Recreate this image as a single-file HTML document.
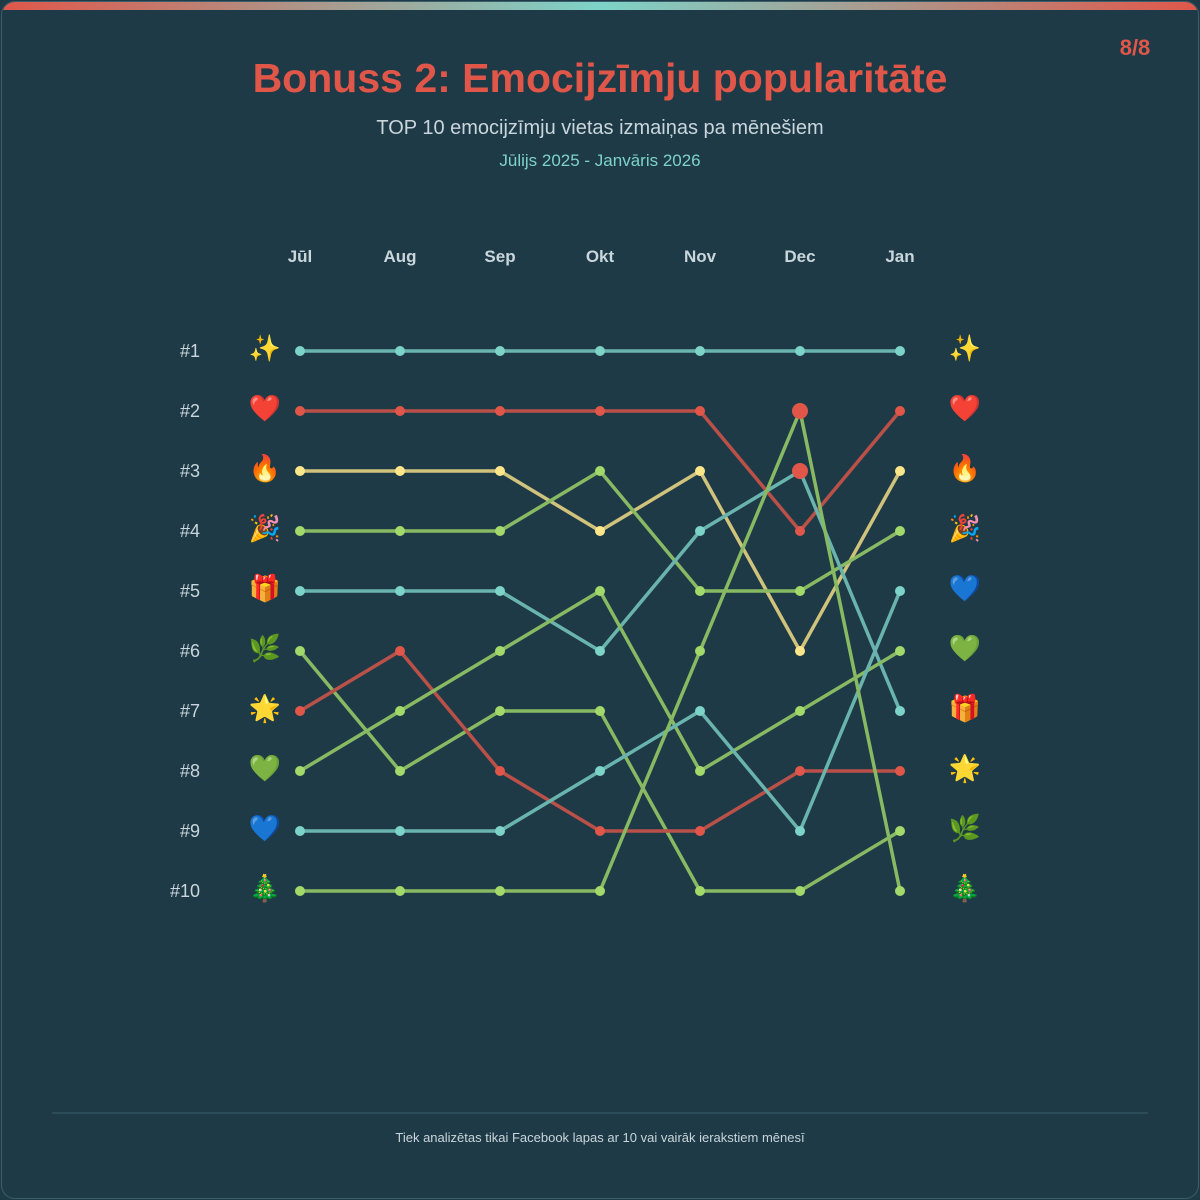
<!DOCTYPE html>
<html><head><meta charset="utf-8"><style>
html,body{margin:0;padding:0;background:#1f3a47;}
.card{position:absolute;left:1px;top:1px;width:1196px;height:1196px;border:1px solid #3a5e6c;border-radius:14px;background:#1f3a47;overflow:hidden;}
.bar{position:absolute;left:0;top:0;width:100%;height:8px;background:linear-gradient(90deg,#e0574a,#7dd3c8 50%,#e0574a);}
</style></head><body><div class="card"><div class="bar"></div></div>
<svg width="1200" height="1200" style="position:absolute;left:0;top:0" font-family="Liberation Sans, DejaVu Sans, sans-serif">
<text x="1135" y="55" text-anchor="middle" font-size="22" font-weight="bold" fill="#e0574a">8/8</text>
<text x="600" y="92" text-anchor="middle" font-size="41" font-weight="bold" fill="#e0574a">Bonuss 2: Emocijzīmju popularitāte</text>
<text x="600" y="134" text-anchor="middle" font-size="20" fill="#c9d6db">TOP 10 emocijzīmju vietas izmaiņas pa mēnešiem</text>
<text x="600" y="166" text-anchor="middle" font-size="17" fill="#7dd3c8">Jūlijs 2025 - Janvāris 2026</text>
<g font-size="17" font-weight="bold" fill="#c9d6db" text-anchor="middle">
<text x="300" y="262">Jūl</text><text x="400" y="262">Aug</text><text x="500" y="262">Sep</text><text x="600" y="262">Okt</text><text x="700" y="262">Nov</text><text x="800" y="262">Dec</text><text x="900" y="262">Jan</text></g>
<g font-size="18" fill="#c9d6db" text-anchor="end">
<text x="200" y="357">#1</text><text x="200" y="417">#2</text><text x="200" y="477">#3</text><text x="200" y="537">#4</text><text x="200" y="597">#5</text><text x="200" y="657">#6</text><text x="200" y="717">#7</text><text x="200" y="777">#8</text><text x="200" y="837">#9</text><text x="200" y="897">#10</text></g>
<g font-size="26" text-anchor="middle" font-family="Noto Color Emoji, DejaVu Sans, sans-serif">
<text x="265" y="357">✨</text><text x="265" y="417">❤️</text><text x="265" y="477">🔥</text><text x="265" y="537">🎉</text><text x="265" y="597">🎁</text><text x="265" y="657">🌿</text><text x="265" y="717">🌟</text><text x="265" y="777">💚</text><text x="265" y="837">💙</text><text x="265" y="897">🎄</text>
<text x="965" y="357">✨</text><text x="965" y="417">❤️</text><text x="965" y="477">🔥</text><text x="965" y="537">🎉</text><text x="965" y="597">💙</text><text x="965" y="657">💚</text><text x="965" y="717">🎁</text><text x="965" y="777">🌟</text><text x="965" y="837">🌿</text><text x="965" y="897">🎄</text></g>
<g fill="none" stroke-width="3.5" stroke-linejoin="round" opacity="0.8">
<polyline stroke="#7dd3c8" points="300,351 400,351 500,351 600,351 700,351 800,351 900,351"/>
<polyline stroke="#e0574a" points="300,411 400,411 500,411 600,411 700,411 800,531 900,411"/>
<polyline stroke="#fde68a" points="300,471 400,471 500,471 600,531 700,471 800,651 900,471"/>
<polyline stroke="#a3d96a" points="300,531 400,531 500,531 600,471 700,591 800,591 900,531"/>
<polyline stroke="#7dd3c8" points="300,591 400,591 500,591 600,651 700,531 800,471 900,711"/>
<polyline stroke="#a3d96a" points="300,651 400,771 500,711 600,711 700,891 800,891 900,831"/>
<polyline stroke="#e0574a" points="300,711 400,651 500,771 600,831 700,831 800,771 900,771"/>
<polyline stroke="#a3d96a" points="300,771 400,711 500,651 600,591 700,771 800,711 900,651"/>
<polyline stroke="#7dd3c8" points="300,831 400,831 500,831 600,771 700,711 800,831 900,591"/>
<polyline stroke="#a3d96a" points="300,891 400,891 500,891 600,891 700,651 800,411 900,891"/>
</g>
<g fill="#7dd3c8">
<circle cx="300" cy="351" r="5"/><circle cx="400" cy="351" r="5"/><circle cx="500" cy="351" r="5"/><circle cx="600" cy="351" r="5"/><circle cx="700" cy="351" r="5"/><circle cx="800" cy="351" r="5"/><circle cx="900" cy="351" r="5"/>
<circle cx="300" cy="591" r="5"/><circle cx="400" cy="591" r="5"/><circle cx="500" cy="591" r="5"/><circle cx="600" cy="651" r="5"/><circle cx="700" cy="531" r="5"/><circle cx="900" cy="711" r="5"/>
<circle cx="300" cy="831" r="5"/><circle cx="400" cy="831" r="5"/><circle cx="500" cy="831" r="5"/><circle cx="600" cy="771" r="5"/><circle cx="700" cy="711" r="5"/><circle cx="800" cy="831" r="5"/><circle cx="900" cy="591" r="5"/>
</g>
<g fill="#e0574a">
<circle cx="300" cy="411" r="5"/><circle cx="400" cy="411" r="5"/><circle cx="500" cy="411" r="5"/><circle cx="600" cy="411" r="5"/><circle cx="700" cy="411" r="5"/><circle cx="800" cy="531" r="5"/><circle cx="900" cy="411" r="5"/>
<circle cx="300" cy="711" r="5"/><circle cx="400" cy="651" r="5"/><circle cx="500" cy="771" r="5"/><circle cx="600" cy="831" r="5"/><circle cx="700" cy="831" r="5"/><circle cx="800" cy="771" r="5"/><circle cx="900" cy="771" r="5"/>
</g>
<g fill="#fde68a">
<circle cx="300" cy="471" r="5"/><circle cx="400" cy="471" r="5"/><circle cx="500" cy="471" r="5"/><circle cx="600" cy="531" r="5"/><circle cx="700" cy="471" r="5"/><circle cx="800" cy="651" r="5"/><circle cx="900" cy="471" r="5"/>
</g>
<g fill="#a3d96a">
<circle cx="300" cy="531" r="5"/><circle cx="400" cy="531" r="5"/><circle cx="500" cy="531" r="5"/><circle cx="600" cy="471" r="5"/><circle cx="700" cy="591" r="5"/><circle cx="800" cy="591" r="5"/><circle cx="900" cy="531" r="5"/>
<circle cx="300" cy="651" r="5"/><circle cx="400" cy="771" r="5"/><circle cx="500" cy="711" r="5"/><circle cx="600" cy="711" r="5"/><circle cx="700" cy="891" r="5"/><circle cx="800" cy="891" r="5"/><circle cx="900" cy="831" r="5"/>
<circle cx="300" cy="771" r="5"/><circle cx="400" cy="711" r="5"/><circle cx="500" cy="651" r="5"/><circle cx="600" cy="591" r="5"/><circle cx="700" cy="771" r="5"/><circle cx="800" cy="711" r="5"/><circle cx="900" cy="651" r="5"/>
<circle cx="300" cy="891" r="5"/><circle cx="400" cy="891" r="5"/><circle cx="500" cy="891" r="5"/><circle cx="600" cy="891" r="5"/><circle cx="700" cy="651" r="5"/><circle cx="900" cy="891" r="5"/>
</g>
<circle cx="800" cy="411" r="8" fill="#e0574a"/><circle cx="800" cy="471" r="8" fill="#e0574a"/>
<line x1="52" y1="1113" x2="1148" y2="1113" stroke="#3a5e6c" stroke-width="1"/>
<text x="600" y="1142" text-anchor="middle" font-size="13" fill="#c9d6db">Tiek analizētas tikai Facebook lapas ar 10 vai vairāk ierakstiem mēnesī</text>
</svg>
</body></html>
